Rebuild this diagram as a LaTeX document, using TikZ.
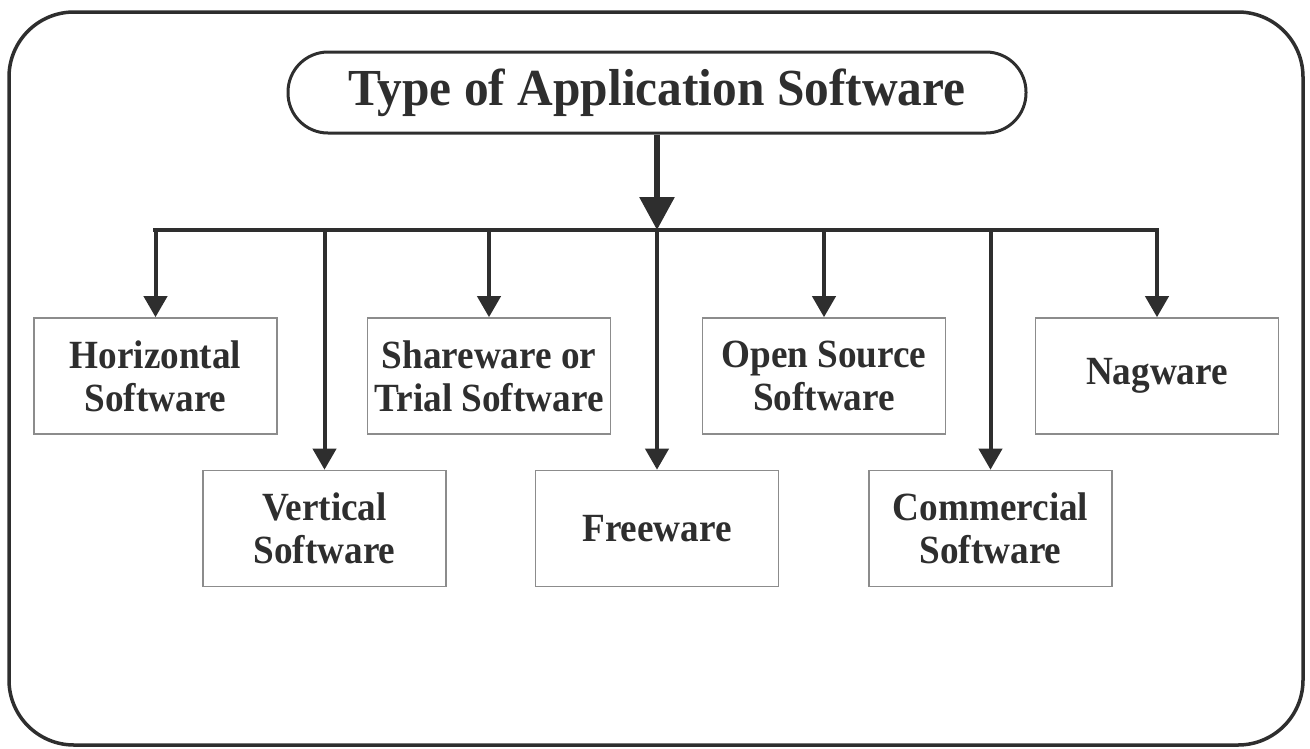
\documentclass[tikz,border=0pt]{standalone}
\usepackage{fontspec}
\setmainfont{Liberation Serif}
\newfontfamily\boxfont[FakeStretch=0.93]{Liberation Serif}
\newfontfamily\headfont[FakeStretch=0.95]{Liberation Serif}
\usetikzlibrary{arrows.meta}
\definecolor{ink}{HTML}{2E2E2E}
\definecolor{boxline}{HTML}{8C8C8C}
\tikzset{
  frame/.style={draw=ink, line width=3.5pt, rounded corners=65pt},
  titlebox/.style={draw=ink, line width=3pt, rounded corners=40pt, minimum width=738pt, minimum height=81pt, inner sep=0pt, text=ink, font=\headfont\fontsize{52}{54}\selectfont\bfseries},
  catbox/.style={draw=boxline, line width=1.6pt, minimum width=243pt, minimum height=116pt, inner sep=0pt, align=center, text=ink, font=\boxfont\fontsize{40}{43}\selectfont\bfseries},
  conn/.style={draw=ink, line width=4pt, -{Triangle[width=23pt,length=21pt]}},
  bar/.style={draw=ink, line width=4.5pt, line cap=rect},
  mainconn/.style={draw=ink, line width=6pt, -{Triangle[width=34pt,length=33pt]}}
}
\begin{document}
\begin{tikzpicture}[x=1pt,y=-1pt]
\useasboundingbox (0,0) rectangle (1310,748);
\draw[frame] (9,12) rectangle (1303,745);
\node[titlebox] (title) at (657,92.5) {Type of Application Software};
% bar points
\coordinate (b1) at (155.5,230);
\coordinate (b2) at (324.5,230);
\coordinate (b3) at (489,230);
\coordinate (b4) at (657,230);
\coordinate (b5) at (824,230);
\coordinate (b6) at (990.5,230);
\coordinate (b7) at (1157,230);
% boxes
\node[catbox] (h) at (155.5,376) {Horizontal\\Software};
\node[catbox] (s) at (489,376) {Shareware or\\Trial Software};
\node[catbox] (o) at (824,376) {Open Source\\Software};
\node[catbox] (n) at (1157,376) {Nagware};
\node[catbox] (v) at (324.5,528.5) {Vertical\\Software};
\node[catbox] (f) at (657,528.5) {Freeware};
\node[catbox] (c) at (990.5,528.5) {Commercial\\Software};
% connectors
\draw[bar] (b1) -- (b7);
\draw[mainconn] (title.south) -- (b4);
\draw[conn] (b1) -- (h.north);
\draw[conn] (b2) -- (v.north);
\draw[conn] (b3) -- (s.north);
\draw[conn] (b4) -- (f.north);
\draw[conn] (b5) -- (o.north);
\draw[conn] (b6) -- (c.north);
\draw[conn] (b7) -- (n.north);
\end{tikzpicture}
\end{document}
